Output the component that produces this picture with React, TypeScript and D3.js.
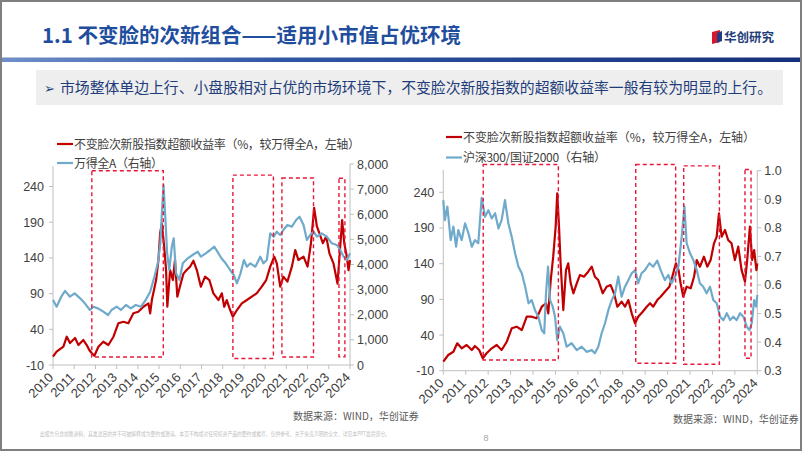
import React from 'react';
import * as d3 from 'd3';

// ---------- DATA ----------
const yearLabels = ['2010','2011','2012','2013','2014','2015','2016','2017','2018','2019','2020','2021','2022','2023','2024'];
const excessTicks = [-10, 40, 90, 140, 190, 240];
const wandeTicks = [0, 1000, 2000, 3000, 4000, 5000, 6000, 7000, 8000];
const ratioTicks = [0.3, 0.4, 0.5, 0.6, 0.7, 0.8, 0.9, 1.0];

const seriesRedName = '不变脸次新股指数超额收益率（%，较万得全A，左轴）';
const seriesWandeName = '万得全A（右轴）';
const seriesRatioName = '沪深300/国证2000（右轴）';

// left panel: excess return (%) vs Wind All A
const leftExcess: [number, number][] = [
  [2010.0,1.6],[2010.17,8.6],[2010.49,15.6],[2010.65,29.6],[2010.8,20.8],[2011.04,27.8],[2011.2,18],[2011.43,25],
  [2011.59,18],[2011.71,11],[2011.83,6.4],[2011.95,3],[2012.14,15.6],[2012.37,22.6],[2012.61,18],[2012.85,29.6],
  [2013.08,48.4],[2013.32,50.6],[2013.55,48.4],[2013.79,62.4],[2014.02,64.6],[2014.26,71.6],[2014.5,76.4],[2014.58,62.4],
  [2014.66,81],[2014.86,109],[2014.97,137],[2015.05,174.5],[2015.13,188],[2015.24,156],[2015.33,123],[2015.39,71.6],
  [2015.52,123],[2015.65,109],[2015.75,137],[2015.86,85.7],[2016.02,104],[2016.15,118],[2016.3,123],[2016.46,127.7],
  [2016.62,136],[2016.78,123],[2016.97,99.7],[2017.17,113.7],[2017.37,109],[2017.56,90.4],[2017.8,81],[2017.96,90.4],
  [2018.07,71.6],[2018.19,81],[2018.35,67],[2018.48,57.6],[2018.67,67],[2018.9,76.4],[2019.14,81],[2019.37,85.7],
  [2019.6,90.4],[2019.84,99.7],[2020.05,109],[2020.24,127.7],[2020.43,141.7],[2020.55,132.4],[2020.71,99.7],[2020.86,113.7],
  [2021.05,106.7],[2021.26,127.7],[2021.42,151],[2021.57,137],[2021.81,141.7],[2022.0,127.7],[2022.16,160.5],[2022.31,210],
  [2022.44,184],[2022.56,174.5],[2022.72,160.5],[2022.88,169.8],[2023.03,146.4],[2023.22,132.4],[2023.41,104],[2023.54,156],
  [2023.63,193],[2023.73,160.5],[2023.85,141.7],[2023.93,123],[2024.0,137]
];
const leftWande: [number, number][] = [
  [2010.0,2587],[2010.17,2321],[2010.39,2719],[2010.57,2950],[2010.8,2719],[2011.02,2852],[2011.28,2654],[2011.5,2455],
  [2011.74,2189],[2011.9,2321],[2012.12,2255],[2012.37,2122],[2012.6,1990],[2012.76,2189],[2013.0,2321],[2013.2,2189],
  [2013.44,2388],[2013.67,2255],[2013.9,2388],[2014.15,2321],[2014.37,2587],[2014.58,2917],[2014.78,3514],[2014.94,4047],
  [2015.06,4844],[2015.14,6169],[2015.21,7164],[2015.3,5771],[2015.38,4446],[2015.48,3781],[2015.6,4708],[2015.69,5043],
  [2015.8,3650],[2015.96,3383],[2016.12,4047],[2016.35,4247],[2016.58,4378],[2016.82,4509],[2016.97,4310],[2017.2,4446],
  [2017.41,4577],[2017.6,4708],[2017.75,4509],[2017.94,4247],[2018.14,4047],[2018.35,3781],[2018.52,3582],[2018.67,3252],
  [2018.84,3650],[2019.0,4179],[2019.14,3912],[2019.3,4047],[2019.54,3912],[2019.77,4310],[2019.92,4047],[2020.08,4179],
  [2020.24,5242],[2020.4,5106],[2020.55,5305],[2020.71,5174],[2020.86,5373],[2021.05,5572],[2021.26,5504],[2021.46,5771],
  [2021.62,5902],[2021.81,5572],[2021.97,4975],[2022.12,5174],[2022.28,5305],[2022.44,5106],[2022.67,5242],[2022.91,5106],
  [2023.14,4844],[2023.38,4776],[2023.54,4577],[2023.7,4310],[2023.85,4179],[2024.0,4446]
];

// right panel: excess return (%) vs CSI300 / CNI2000
const rightExcess: [number, number][] = [
  [2010.0,2.6],[2010.22,12],[2010.45,16.6],[2010.62,28.4],[2010.82,21.4],[2011.04,26],[2011.27,19],[2011.41,24.6],
  [2011.6,19],[2011.76,7.4],[2011.93,14.4],[2012.16,21.4],[2012.38,26],[2012.6,19],[2012.83,30.6],[2013.05,49.4],
  [2013.27,51.7],[2013.5,47],[2013.72,65.7],[2013.94,65.7],[2014.16,63.4],[2014.39,79.7],[2014.58,84.5],[2014.68,70.4],
  [2014.79,117],[2014.9,149.8],[2015.01,191.8],[2015.08,238.6],[2015.16,191.8],[2015.23,140.5],[2015.35,75],[2015.47,131],
  [2015.57,140.5],[2015.68,112.5],[2015.8,98.5],[2015.95,112.5],[2016.09,124],[2016.27,121.7],[2016.46,128.7],[2016.62,135.7],
  [2016.76,121.7],[2016.91,117],[2017.11,98.5],[2017.28,107.7],[2017.46,110],[2017.61,98.5],[2017.76,79.7],[2017.95,86.7],
  [2018.1,79.7],[2018.25,89],[2018.4,70.4],[2018.55,56.4],[2018.69,65.7],[2018.89,72.7],[2019.07,79.7],[2019.22,84.5],
  [2019.36,79.7],[2019.54,89],[2019.69,93.7],[2019.88,100.7],[2020.08,107.7],[2020.23,124],[2020.37,140.5],[2020.49,131],
  [2020.58,112.5],[2020.7,93.7],[2020.85,107.7],[2021.03,105.4],[2021.18,121.7],[2021.3,145.1],[2021.44,135.7],[2021.62,149.8],
  [2021.77,135.7],[2021.92,145.1],[2022.07,168.5],[2022.19,177.8],[2022.29,210.6],[2022.41,177.8],[2022.56,187.2],[2022.7,173.2],
  [2022.85,168.5],[2023.0,145.1],[2023.15,163.8],[2023.3,131],[2023.45,114.7],[2023.55,145.1],[2023.67,191.8],[2023.77,145.1],
  [2023.86,159],[2023.96,131],[2024.0,140.5]
];
const rightRatio: [number, number][] = [
  [2010.0,0.897],[2010.07,0.827],[2010.18,0.874],[2010.33,0.757],[2010.45,0.804],[2010.57,0.734],[2010.67,0.792],[2010.82,0.757],
  [2010.97,0.816],[2011.12,0.781],[2011.27,0.734],[2011.41,0.757],[2011.56,0.746],[2011.71,0.905],[2011.86,0.839],[2012.01,0.862],
  [2012.16,0.833],[2012.31,0.851],[2012.46,0.798],[2012.6,0.827],[2012.75,0.897],[2012.9,0.816],[2013.05,0.769],[2013.2,0.711],
  [2013.35,0.664],[2013.5,0.641],[2013.65,0.594],[2013.8,0.536],[2013.94,0.547],[2014.09,0.512],[2014.24,0.489],[2014.39,0.442],
  [2014.5,0.431],[2014.58,0.571],[2014.67,0.664],[2014.76,0.547],[2014.88,0.524],[2014.98,0.489],[2015.08,0.407],[2015.2,0.454],
  [2015.35,0.431],[2015.5,0.384],[2015.72,0.396],[2015.95,0.372],[2016.17,0.384],[2016.39,0.366],[2016.62,0.372],[2016.76,0.361],
  [2016.91,0.384],[2017.06,0.431],[2017.21,0.466],[2017.36,0.512],[2017.51,0.547],[2017.66,0.571],[2017.8,0.629],[2017.95,0.559],
  [2018.1,0.594],[2018.25,0.617],[2018.4,0.641],[2018.55,0.652],[2018.69,0.606],[2018.84,0.641],[2018.99,0.652],[2019.19,0.676],
  [2019.36,0.664],[2019.54,0.685],[2019.69,0.652],[2019.88,0.617],[2020.03,0.635],[2020.18,0.606],[2020.33,0.629],[2020.48,0.664],
  [2020.63,0.769],[2020.75,0.875],[2020.85,0.746],[2021.0,0.711],[2021.15,0.687],[2021.3,0.652],[2021.44,0.606],[2021.59,0.594],
  [2021.74,0.571],[2021.89,0.594],[2022.04,0.547],[2022.19,0.536],[2022.34,0.489],[2022.49,0.477],[2022.64,0.501],[2022.79,0.477],
  [2022.93,0.489],[2023.08,0.477],[2023.23,0.501],[2023.38,0.489],[2023.53,0.454],[2023.65,0.442],[2023.75,0.466],[2023.86,0.547],
  [2023.95,0.524],[2024.0,0.565]
];

// highlighted periods: [start, end, top, bottom] in (year, left-axis value)
const leftBoxes: [number, number, number, number][] = [
  [2011.83, 2015.2, 262, 1.2],
  [2018.48, 2020.39, 256, -0.9],
  [2020.79, 2022.28, 252, 1.2],
  [2023.48, 2023.76, 251.5, 1.6]
];
const rightBoxes: [number, number, number, number][] = [
  [2011.78, 2015.13, 279, 5],
  [2018.58, 2020.36, 279, 0.4],
  [2020.72, 2022.31, 277, -1],
  [2023.45, 2023.72, 272, 7.4]
];

const RED = '#C00000';
const BLUE = '#6FAACB';
const BOX = '#E8173A';
const AXIS = '#BFBFBF';
const LABEL = '#404040';
const CJK = '"Noto Sans CJK SC", "Noto Sans", sans-serif';
const LATIN = '"Liberation Sans", Arial, sans-serif';

type PanelProps = {
  x0: number; x1: number; yBottom: number; y240: number; rightTop: number; leftTop: number;
  rightDomain: [number, number]; rightTicks: number[]; rightFmt: (v: number) => string;
  red: [number, number][]; blue: [number, number][]; boxes: [number, number, number, number][];
  legendX: number; legendY1: number; legendY2: number; blueName: string; redW: number; blueW: number;
};

function Panel(p: PanelProps) {
  const x = d3.scaleLinear().domain([2010, 2024]).range([p.x0, p.x1]);
  const yL = d3.scaleLinear().domain([-10, 240]).range([p.yBottom, p.y240]);
  const yR = d3.scaleLinear().domain(p.rightDomain).range([p.yBottom, p.rightTop]);
  const redLine = d3.line<[number, number]>().x(d => x(d[0])).y(d => yL(d[1]));
  const blueLine = d3.line<[number, number]>().x(d => x(d[0])).y(d => yR(d[1]));
  return (
    <g>
      {/* axes */}
      <line x1={p.x0} x2={p.x0} y1={p.leftTop} y2={p.yBottom} stroke={AXIS} strokeWidth={1} />
      <line x1={p.x1} x2={p.x1} y1={p.rightTop} y2={p.yBottom} stroke={AXIS} strokeWidth={1} />
      <line x1={p.x0} x2={p.x1} y1={p.yBottom} y2={p.yBottom} stroke={AXIS} strokeWidth={1} />
      {excessTicks.map(t => (
        <g key={'l' + t}>
          <line x1={p.x0 - 4} x2={p.x0} y1={yL(t)} y2={yL(t)} stroke={AXIS} />
          <text x={p.x0 - 9} y={yL(t) + 4.5} textAnchor="end" fontSize={12.5} fontFamily={LATIN} fill={LABEL}>{t}</text>
        </g>
      ))}
      {p.rightTicks.map(t => (
        <g key={'r' + t}>
          <line x1={p.x1} x2={p.x1 + 4} y1={yR(t)} y2={yR(t)} stroke={AXIS} />
          <text x={p.x1 + 7} y={yR(t) + 4.5} textAnchor="start" fontSize={12.5} fontFamily={LATIN} fill={LABEL}>{p.rightFmt(t)}</text>
        </g>
      ))}
      {yearLabels.map(lab => {
        const xv = x(+lab);
        return (
          <g key={'x' + lab}>
            <line x1={xv} x2={xv} y1={p.yBottom} y2={p.yBottom + 4} stroke={AXIS} />
            <text transform={`translate(${xv - 2},${p.yBottom + 10}) rotate(-45)`} textAnchor="end" dy="0.35em"
              fontSize={13} fontFamily={LATIN} fill={LABEL}>{lab}</text>
          </g>
        );
      })}
      {/* series */}
      <path d={redLine(p.red) || ''} fill="none" stroke={RED} strokeWidth={2.2} strokeLinejoin="round" />
      <path d={blueLine(p.blue) || ''} fill="none" stroke={BLUE} strokeWidth={2.2} strokeLinejoin="round" />
      {/* highlight boxes */}
      {p.boxes.map((b, i) => (
        <rect key={'b' + i} x={x(b[0])} y={yL(b[2])} width={x(b[1]) - x(b[0])} height={yL(b[3]) - yL(b[2])}
          fill="none" stroke={BOX} strokeWidth={1.4} strokeDasharray="4,3" />
      ))}
      {/* legend */}
      <line x1={p.legendX} x2={p.legendX + 16} y1={p.legendY1} y2={p.legendY1} stroke={RED} strokeWidth={2.2} />
      <text x={p.legendX + 17} y={p.legendY1 + 4.5} fontSize={12} fontFamily={CJK} fill={LABEL}
        textLength={p.redW} lengthAdjust="spacing">{seriesRedName}</text>
      <line x1={p.legendX} x2={p.legendX + 16} y1={p.legendY2} y2={p.legendY2} stroke={BLUE} strokeWidth={2.2} />
      <text x={p.legendX + 17} y={p.legendY2 + 4.5} fontSize={12} fontFamily={CJK} fill={LABEL}
        textLength={p.blueW} lengthAdjust="spacing">{p.blueName}</text>
    </g>
  );
}

export default function App() {
  const fmtK = d3.format(',');
  const fmt1 = d3.format('.1f');
  return (
    <svg width={802} height={451} style={{ position: 'absolute', left: 0, top: 0, background: '#fff' }}
      xmlns="http://www.w3.org/2000/svg">
      <defs>
        <linearGradient id="topbar" x1="0" x2="1" y1="0" y2="0">
          <stop offset="0" stopColor="#6F8FC8" />
          <stop offset="0.35" stopColor="#2F56A6" />
          <stop offset="1" stopColor="#142F7A" />
        </linearGradient>
      </defs>
      <rect x={0} y={0} width={802} height={451} fill="#fff" />
      {/* title */}
      <text x={42} y={43} fontSize={20.5} fontWeight={700} fontFamily={CJK} fill="#1F4E9E">1.1 不变脸的次新组合——适用小市值占优环境</text>
      {/* logo */}
      <g>
        <polygon points="712,32 720,30 720,42 712,44" fill="#D7182A" />
        <polygon points="717,33 722,31 722,41 717,43" fill="#1F3D8A" />
        <text x={724} y={41.5} fontSize={12.5} fontWeight={700} fontFamily={CJK} fill="#1F3D7A">华创研究</text>
      </g>
      <rect x={0} y={57.5} width={802} height={4.5} fill="url(#topbar)" />
      {/* subtitle box */}
      <rect x={36} y={70} width={747} height={35} fill="#EEEEEE" />
      <text x={44} y={92.5} fontSize={13} fontFamily='"DejaVu Sans", sans-serif' fill="#1F3D7A">➢</text>
      <text x={60} y={93} fontSize={15} fontFamily={CJK} fill="#1F3D7A" textLength={712} lengthAdjust="spacingAndGlyphs">市场整体单边上行、小盘股相对占优的市场环境下，不变脸次新股指数的超额收益率一般有较为明显的上行。</text>

      <Panel x0={53} x1={350} yBottom={365} y240={186.5} rightTop={164} leftTop={166}
        rightDomain={[0, 8000]} rightTicks={wandeTicks} rightFmt={v => fmtK(v)}
        red={leftExcess} blue={leftWande} boxes={leftBoxes}
        legendX={57} legendY1={144} legendY2={163} blueName={seriesWandeName} redW={286} blueW={89} />
      <Panel x0={443.3} x1={757.3} yBottom={370.7} y240={192.3} rightTop={170.7} leftTop={170}
        rightDomain={[0.3, 1.0]} rightTicks={ratioTicks} rightFmt={v => fmt1(v)}
        red={rightExcess} blue={rightRatio} boxes={rightBoxes}
        legendX={446} legendY1={137} legendY2={157.5} blueName={seriesRatioName} redW={292} blueW={143} />

      {/* sources */}
      <text x={293} y={420} fontSize={10} fontFamily={CJK} fill="#595959">数据来源：WIND，华创证券</text>
      <text x={673} y={423} fontSize={10} fontFamily={CJK} fill="#595959">数据来源：WIND，华创证券</text>
      <text x={40} y={436} fontSize={5.5} fontFamily={CJK} fill="#BFBFBF" textLength={350} lengthAdjust="spacingAndGlyphs">此报告包含前瞻资料，其发送目的并不可被解释成为要约或邀请。本页不构成对任何投资产品的要约或推荐，仅供参考。关于免责声明的全文，详见本PPT最后部分。</text>
      <text x={486} y={441} fontSize={9} fontFamily={LATIN} fill="#A6A6A6" textAnchor="middle">8</text>
      {/* slide frame */}
      <rect x={1} y={1} width={800} height={449} fill="none" stroke="#7F7F7F" strokeWidth={2} />
    </svg>
  );
}
